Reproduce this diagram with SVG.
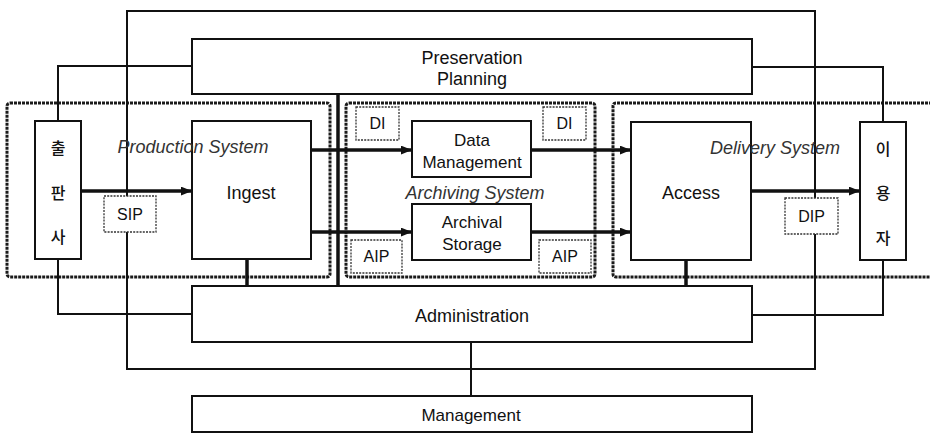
<svg xmlns="http://www.w3.org/2000/svg" width="930" height="433" viewBox="0 0 930 433">
<style>
.box{fill:#fff;stroke:#111;stroke-width:2}
.dash{fill:none;stroke:#1a1a1a;stroke-width:3;stroke-dasharray:3 1}
.dbox{fill:#fff;stroke:#333;stroke-width:1.3;stroke-dasharray:2 1.2}
.line{fill:none;stroke:#111;stroke-width:2}
.thick{fill:none;stroke:#111;stroke-width:3.5}
.t{font-family:"Liberation Sans",Arial,sans-serif;font-size:18px;fill:#111;text-anchor:middle}
.s{font-family:"Liberation Sans",Arial,sans-serif;font-size:16px;fill:#111;text-anchor:middle}
.it{font-family:"Liberation Sans",Arial,sans-serif;font-size:18px;font-style:italic;fill:#333;text-anchor:middle}
.k{font-family:"Noto Sans CJK KR",sans-serif;font-size:16px;font-weight:500;fill:#111;text-anchor:middle}
</style>
<defs>
<marker id="ah" viewBox="0 0 10 8" refX="10" refY="4" markerWidth="11" markerHeight="9" markerUnits="userSpaceOnUse" orient="auto">
<path d="M0,0 L10,4 L0,8 Z" fill="#111"/>
</marker>
</defs>
<rect width="930" height="433" fill="#fff"/>

<g id="systems">
<rect class="dash" x="7" y="103" width="323" height="174" rx="3"/>
<rect class="dash" x="346" y="103" width="249" height="174" rx="3"/>
<path class="dash" d="M932,103 H616 Q613,103 613,106 V274 Q613,277 616,277 H932"/>
</g>

<g id="connectors">
<rect class="line" x="127" y="11" width="688" height="358"/>
<path class="line" d="M192,66 H58 V121"/>
<path class="line" d="M752,67 H883 V122"/>
<path class="line" d="M58,259 V314 H192"/>
<path class="line" d="M883,260 V315 H752"/>
<path class="thick" d="M338,94 V286"/>
<path class="thick" d="M247,259 V286"/>
<path class="thick" d="M686,260 V286"/>
<path class="line" d="M471,342 V396"/>
<path class="thick" d="M81,191 H192" marker-end="url(#ah)"/>
<path class="thick" d="M311,150 H412" marker-end="url(#ah)"/>
<path class="thick" d="M531,150 H631" marker-end="url(#ah)"/>
<path class="thick" d="M311,232 H412" marker-end="url(#ah)"/>
<path class="thick" d="M531,232 H631" marker-end="url(#ah)"/>
<path class="thick" d="M751,191 H860" marker-end="url(#ah)"/>
</g>

<g id="preservation-planning">
<rect class="box" x="192" y="39" width="560" height="55"/>
<text class="t" x="472" y="64">Preservation</text>
<text class="t" x="472" y="85">Planning</text>
</g>

<g id="publisher">
<rect class="box" x="35" y="121" width="46" height="138"/>
<text class="k" x="58" y="154">출</text>
<text class="k" x="58" y="199">판</text>
<text class="k" x="58" y="243">사</text>
</g>

<g id="ingest">
<rect class="box" x="192" y="121" width="119" height="138"/>
<text class="t" x="251" y="199">Ingest</text>
</g>

<g id="data-management">
<rect class="box" x="412" y="121" width="119" height="56"/>
<text class="s" x="472" y="146" style="font-size:17px">Data</text>
<text class="s" x="472" y="168" style="font-size:17px">Management</text>
</g>

<g id="archival-storage">
<rect class="box" x="412" y="204" width="119" height="56"/>
<text class="s" x="472" y="228" style="font-size:17px">Archival</text>
<text class="s" x="472" y="250" style="font-size:17px">Storage</text>
</g>

<g id="access">
<rect class="box" x="631" y="122" width="120" height="138"/>
<text class="t" x="691" y="199">Access</text>
</g>

<g id="user">
<rect class="box" x="860" y="122" width="46" height="138"/>
<text class="k" x="883" y="155">이</text>
<text class="k" x="883" y="199">용</text>
<text class="k" x="883" y="244">자</text>
</g>

<g id="administration">
<rect class="box" x="192" y="286" width="560" height="56"/>
<text class="t" x="472" y="322">Administration</text>
</g>

<g id="management">
<rect class="box" x="192" y="396" width="560" height="36"/>
<text class="s" x="471" y="421" style="font-size:17px">Management</text>
</g>

<g id="sip"><rect class="dbox" x="104" y="196" width="52" height="36"/><text class="s" x="130" y="220">SIP</text></g>
<g id="di-left"><rect class="dbox" x="356" y="107" width="43" height="33"/><text class="s" x="377.5" y="129">DI</text></g>
<g id="di-right"><rect class="dbox" x="543" y="107" width="43" height="33"/><text class="s" x="564.5" y="129">DI</text></g>
<g id="aip-left"><rect class="dbox" x="351" y="240" width="51" height="33"/><text class="s" x="376.5" y="262">AIP</text></g>
<g id="aip-right"><rect class="dbox" x="539" y="240" width="52" height="33"/><text class="s" x="565" y="262">AIP</text></g>
<g id="dip"><rect class="dbox" x="785" y="198" width="53" height="36"/><text class="s" x="811.5" y="222">DIP</text></g>

<g id="system-labels">
<text class="it" x="193" y="153">Production System</text>
<text class="it" x="475" y="199">Archiving System</text>
<text class="it" x="775" y="154">Delivery System</text>
</g>
</svg>
